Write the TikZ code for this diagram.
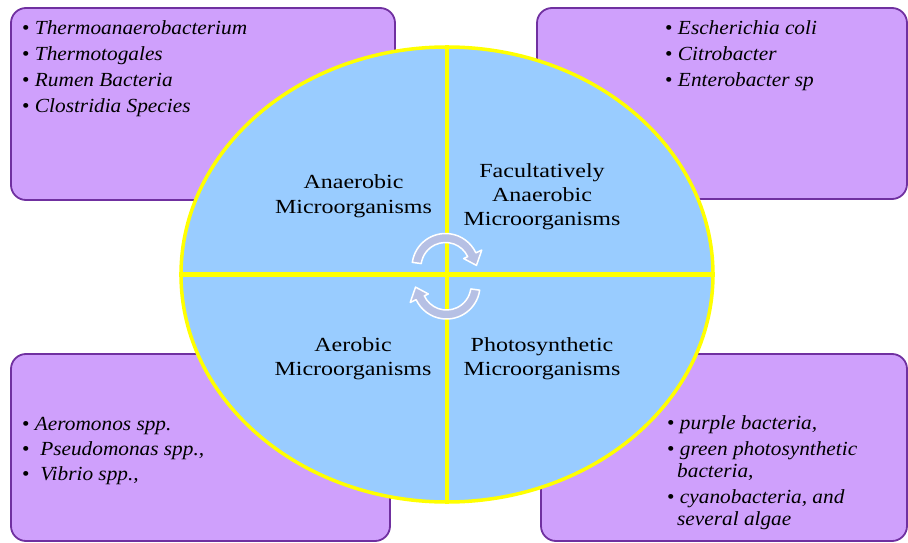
\documentclass[tikz,border=0pt]{standalone}
\usepackage{fontspec}
\setmainfont{Liberation Serif}
\newfontfamily\centerfont[FakeStretch=1.2]{Liberation Serif}
\newfontfamily\listfont[FakeStretch=1.065]{Liberation Serif}
\usetikzlibrary{shapes.geometric,calc}
\definecolor{boxfill}{RGB}{207,160,252}
\definecolor{boxline}{RGB}{112,48,160}
\definecolor{ellfill}{RGB}{153,204,255}
\definecolor{yell}{RGB}{255,255,0}
\definecolor{arrowfill}{RGB}{182,192,228}
\begin{document}
\begin{tikzpicture}[x=1pt,y=-1pt,
  box/.style={draw=boxline, fill=boxfill, line width=1.8pt, rounded corners=15pt, inner sep=0pt},
  ctext/.style={font=\centerfont\fontsize{20}{24}\selectfont, anchor=base, inner sep=0pt},
  ltext/.style={font=\listfont\fontsize{20}{26}\selectfont, anchor=base west, inner sep=0pt},
  divider/.style={draw=yell, line width=4.3pt},
  cyc/.style={fill=arrowfill, draw=white, line width=1.5pt, line join=round}]
\useasboundingbox (0,0) rectangle (908,543);
\fill[white] (0,0) rectangle (908,543);

% corner boxes
\node[box, minimum width=384pt, minimum height=192pt] (tl) at (203,104) {};
\node[box, minimum width=370pt, minimum height=191pt] (tr) at (722,103.5) {};
\node[box, minimum width=379pt, minimum height=187pt] (bl) at (200.5,447.5) {};
\node[box, minimum width=366pt, minimum height=187pt] (br) at (724,447.5) {};

% central ellipse
\node[ellipse, draw=yell, fill=ellfill, line width=3.5pt, minimum width=532pt, minimum height=455pt, inner sep=0pt] (ell) at (447,274.5) {};
\draw[divider] (ell.north) -- (ell.south);
\draw[divider] (ell.west) -- (ell.east);

% centre labels
\node[ctext] (an1) at (353.5,188) {Anaerobic};
\node[ctext] (an2) at (353.5,213) {Microorganisms};
\node[ctext] (fa1) at (542,177) {Facultatively};
\node[ctext] (fa2) at (542,201) {Anaerobic};
\node[ctext] (fa3) at (542,225) {Microorganisms};
\node[ctext] (ae1) at (353,351) {Aerobic};
\node[ctext] (ae2) at (353,375) {Microorganisms};
\node[ctext] (ph1) at (542,351) {Photosynthetic};
\node[ctext] (ph2) at (542,375) {Microorganisms};

% top-left list
\node[ltext] (tl1) at (22,35) {•\ \textit{Thermoanaerobacterium}};
\node[ltext] (tl2) at (22,61) {•\ \textit{Thermotogales}};
\node[ltext] (tl3) at (22,87) {•\ \textit{Rumen Bacteria}};
\node[ltext] (tl4) at (22,113) {•\ \textit{Clostridia Species}};

% top-right list
\node[ltext] (tr1) at (665,35) {•\ \textit{Escherichia coli}};
\node[ltext] (tr2) at (665,61) {•\ \textit{Citrobacter}};
\node[ltext] (tr3) at (665,87) {•\ \textit{Enterobacter sp}};

% bottom-left list
\node[ltext] (bl1) at (22,430) {•\ \textit{Aeromonos spp.}};
\node[ltext] (bl2) at (22,455) {•\ \ \textit{Pseudomonas spp.,}};
\node[ltext] (bl3) at (22,480) {•\ \ \textit{Vibrio spp.,}};

% bottom-right list
\node[ltext] (br1) at (667,429) {•\ \textit{purple bacteria,}};
\node[ltext] (br2) at (667,455) {•\ \textit{green photosynthetic}};
\node[ltext] (br2b) at (677,477) {\textit{bacteria,}};
\node[ltext] (br3) at (667,503) {•\ \textit{cyanobacteria, and}};
\node[ltext] (br3b) at (677,525) {\textit{several algae}};

% cycle arrows
\coordinate (c1) at (445.5,267);
\coordinate (c2) at (446.5,285.5);
\path[cyc] ($(c1)+(188:33.5)$) arc[start angle=188, end angle=335, radius=33.5]
  -- ($(c1)+(335:40)$) -- ($(c1)+(357:31)$) -- ($(c1)+(335:20)$)
  -- ($(c1)+(335:24.5)$) arc[start angle=335, end angle=188, radius=24.5] -- cycle;
\path[cyc] ($(c2)+(8:33.5)$) arc[start angle=8, end angle=155, radius=33.5]
  -- ($(c2)+(155:40)$) -- ($(c2)+(177:31)$) -- ($(c2)+(155:20)$)
  -- ($(c2)+(155:24.5)$) arc[start angle=155, end angle=8, radius=24.5] -- cycle;
\end{tikzpicture}
\end{document}
